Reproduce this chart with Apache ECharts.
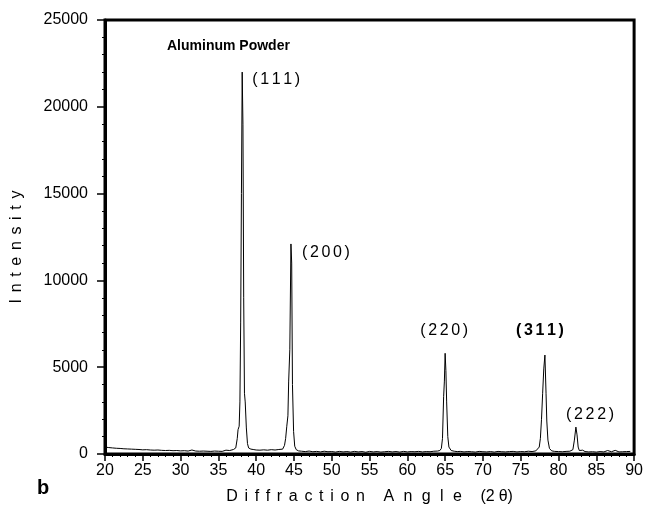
<!DOCTYPE html>
<html>
<head>
<meta charset="utf-8">
<script src="https://cdn.jsdelivr.net/npm/echarts@6/dist/echarts.min.js"></script>
<style>
  html, body { margin: 0; padding: 0; background: #fff; }
  #chart { width: 646px; height: 516px; }
</style>
</head>
<body>
<div id="chart"></div>
<script>
// X-ray diffraction pattern of aluminum powder: 2θ (degrees) vs. intensity (counts)
const angle = [
  20, 20.5, 21, 21.5, 22, 22.5, 23, 23.5, 24, 24.5, 25, 25.5, 26, 26.5, 27, 27.5,
  28, 28.5, 29, 29.5, 30, 30.5, 31, 31.5, 32, 32.5, 33, 33.5, 34, 34.5, 35, 35.5,
  36, 36.5, 37, 37.3, 37.5, 37.6, 37.75, 37.85, 37.95, 38.05, 38.15, 38.25, 38.35,
  38.45, 38.55, 38.7, 38.85, 39, 39.3, 39.6, 40, 40.5, 41, 41.5, 42, 42.5, 43, 43.5,
  43.75, 43.9, 44.05, 44.2, 44.3, 44.45, 44.6, 44.7, 44.8, 44.95, 45.1, 45.3, 45.6,
  46, 46.5, 47, 47.5, 48, 48.5, 49, 49.5, 50, 50.5, 51, 51.5, 52, 52.5, 53, 53.5,
  54, 54.5, 55, 55.5, 56, 56.5, 57, 57.5, 58, 58.5, 59, 59.5, 60, 60.5, 61, 61.5,
  62, 62.5, 63, 63.5, 64, 64.3, 64.5, 64.65, 64.8, 64.9, 65.0, 65.1, 65.2, 65.35,
  65.5, 65.8, 66.2, 66.6, 67, 67.5, 68, 68.5, 69, 69.5, 70, 70.5, 71, 71.5, 72,
  72.5, 73, 73.5, 74, 74.5, 75, 75.5, 76, 76.5, 77, 77.25, 77.45, 77.6, 77.75,
  77.9, 78.05, 78.2, 78.35, 78.45, 78.6, 78.8, 79.1, 79.5, 80, 80.5, 81, 81.5,
  81.9, 82.1, 82.3, 82.45, 82.6, 82.75, 82.9, 83.2, 83.5, 84, 84.5, 85, 85.5, 86,
  86.5, 87, 87.5, 88, 88.5, 89, 89.5, 90
];
const intensity = [
  400, 370, 350, 330, 320, 300, 290, 280, 270, 260, 240, 250, 230, 220, 230, 210,
  200, 210, 190, 200, 180, 190, 170, 230, 170, 160, 170, 160, 150, 170, 160, 150,
  220, 200, 260, 350, 900, 1400, 1600, 3000, 7600, 15000, 22000, 19000, 9000,
  3500, 3000, 1500, 600, 350, 280, 260, 230, 220, 240, 220, 250, 230, 260, 280,
  500, 900, 1600, 2200, 4200, 6000, 12100, 11000, 4000, 1300, 450, 250, 180,
  160, 140, 170, 130, 150, 120, 160, 130, 140, 110, 150, 120, 140, 110, 150, 120,
  140, 100, 150, 120, 140, 110, 130, 150, 120, 140, 110, 150, 120, 140, 130, 150,
  120, 140, 130, 160, 170, 200, 320, 900, 3300, 4200, 5800, 4800, 3000, 1000,
  400, 200, 160, 140, 150, 120, 140, 130, 110, 150, 130, 120, 140, 110, 150,
  130, 120, 140, 150, 120, 140, 130, 160, 140, 180, 240, 400, 900, 2000,
  3500, 4900, 5700, 3500, 1900, 800, 320, 180, 150, 140, 130, 150,
  160, 250, 800, 1550, 1100, 400, 200, 170, 220, 140, 120, 130, 110, 140,
  120, 200, 130, 210, 120, 130, 140, 150
];

// Bragg reflections and their peak maxima
const hkl = ['(111)', '(200)', '(220)', '(311)', '(222)'];
const peakAngle = [38.15, 44.6, 65.0, 78.2, 82.45];
const peakIntensity = [22000, 12100, 5800, 5700, 1550];

// Tick labels
const xTicks = [20, 25, 30, 35, 40, 45, 50, 55, 60, 65, 70, 75, 80, 85, 90];
const yTicks = [0, 5000, 10000, 15000, 20000, 25000];

// pixel offsets of the reflection labels from their peak tops
const labelOffsets = [[34, 8], [35, 9], [-1, -23], [-5, -24], [13, -12]];

// widen text the way the typeset figure does
const spaced = (s, gap) => s.split('').join(gap);
const LETTER = '\u2005\u2006';
const WIDE = '\u2004\u2005';
const xName = [spaced('Diffraction', LETTER), spaced('Angle', WIDE), '(2\u2005\u03b8)'].join('\u2003\u2006');
const yName = spaced('Intensity', LETTER);

const chart = echarts.init(document.getElementById('chart'), null, { renderer: 'canvas' });

const font = '"Liberation Sans", Arial, sans-serif';

chart.setOption({
  backgroundColor: '#ffffff',
  animation: false,
  title: {
    text: 'Aluminum Powder',
    left: 162,
    top: 34,
    textStyle: { fontFamily: font, fontSize: 14, fontWeight: 'bold', color: '#000' }
  },
  grid: {
    left: 105, right: 6, top: 20, bottom: 62,
    show: true, borderColor: '#000', borderWidth: 3, backgroundColor: 'transparent'
  },
  xAxis: {
    type: 'value',
    min: xTicks[0], max: xTicks[xTicks.length - 1], interval: 5,
    name: xName,
    nameLocation: 'middle', nameGap: 35,
    nameTextStyle: { fontFamily: font, fontSize: 16, color: '#000' },
    axisLine: { show: true, onZero: false, lineStyle: { color: '#000', width: 3 } },
    axisTick: { show: true, inside: false, length: 7, lineStyle: { color: '#000', width: 1.5 } },
    minorTick: { show: true, splitNumber: 5, length: 3, lineStyle: { color: '#000', width: 1 } },
    splitLine: { show: false },
    axisLabel: { fontFamily: font, fontSize: 16, color: '#000', margin: 9, formatter: v => String(v) }
  },
  yAxis: {
    type: 'value',
    min: yTicks[0], max: yTicks[yTicks.length - 1], interval: 5000,
    axisLine: { show: true, onZero: false, lineStyle: { color: '#000', width: 3 } },
    axisTick: { show: true, inside: false, length: 8, lineStyle: { color: '#000', width: 1.5 } },
    minorTick: { show: true, splitNumber: 5, length: 3, lineStyle: { color: '#000', width: 1 } },
    splitLine: { show: false },
    axisLabel: { fontFamily: font, fontSize: 16, color: '#000', margin: 17, formatter: v => String(v) }
  },
  graphic: [{
    type: 'text', left: 37, top: 478,
    style: { text: 'b', font: 'bold 20px ' + font, fill: '#000' }
  }, {
    // vertical axis title, reading bottom to top
    type: 'text', x: 17, y: 247, rotation: Math.PI / 2,
    style: {
      text: yName, font: '16px ' + font, fill: '#000',
      align: 'center', verticalAlign: 'middle'
    }
  }],
  series: [{
    type: 'line',
    data: angle.map((a, i) => [a, intensity[i]]),
    showSymbol: false,
    lineStyle: { color: '#000', width: 1 },
    markPoint: {
      symbol: 'circle', symbolSize: 1,
      itemStyle: { color: 'rgba(0,0,0,0)' },
      label: {
        show: true, position: 'inside',
        fontFamily: font, fontSize: 16, color: '#000'
      },
      data: hkl.map((h, i) => ({
        coord: [peakAngle[i], peakIntensity[i]],
        value: h,
        label: {
          formatter: spaced(h, '\u2006'),
          offset: labelOffsets[i],
          fontWeight: h === '(311)' ? 'bold' : 'normal'
        }
      }))
    }
  }]
});
</script>
</body>
</html>
